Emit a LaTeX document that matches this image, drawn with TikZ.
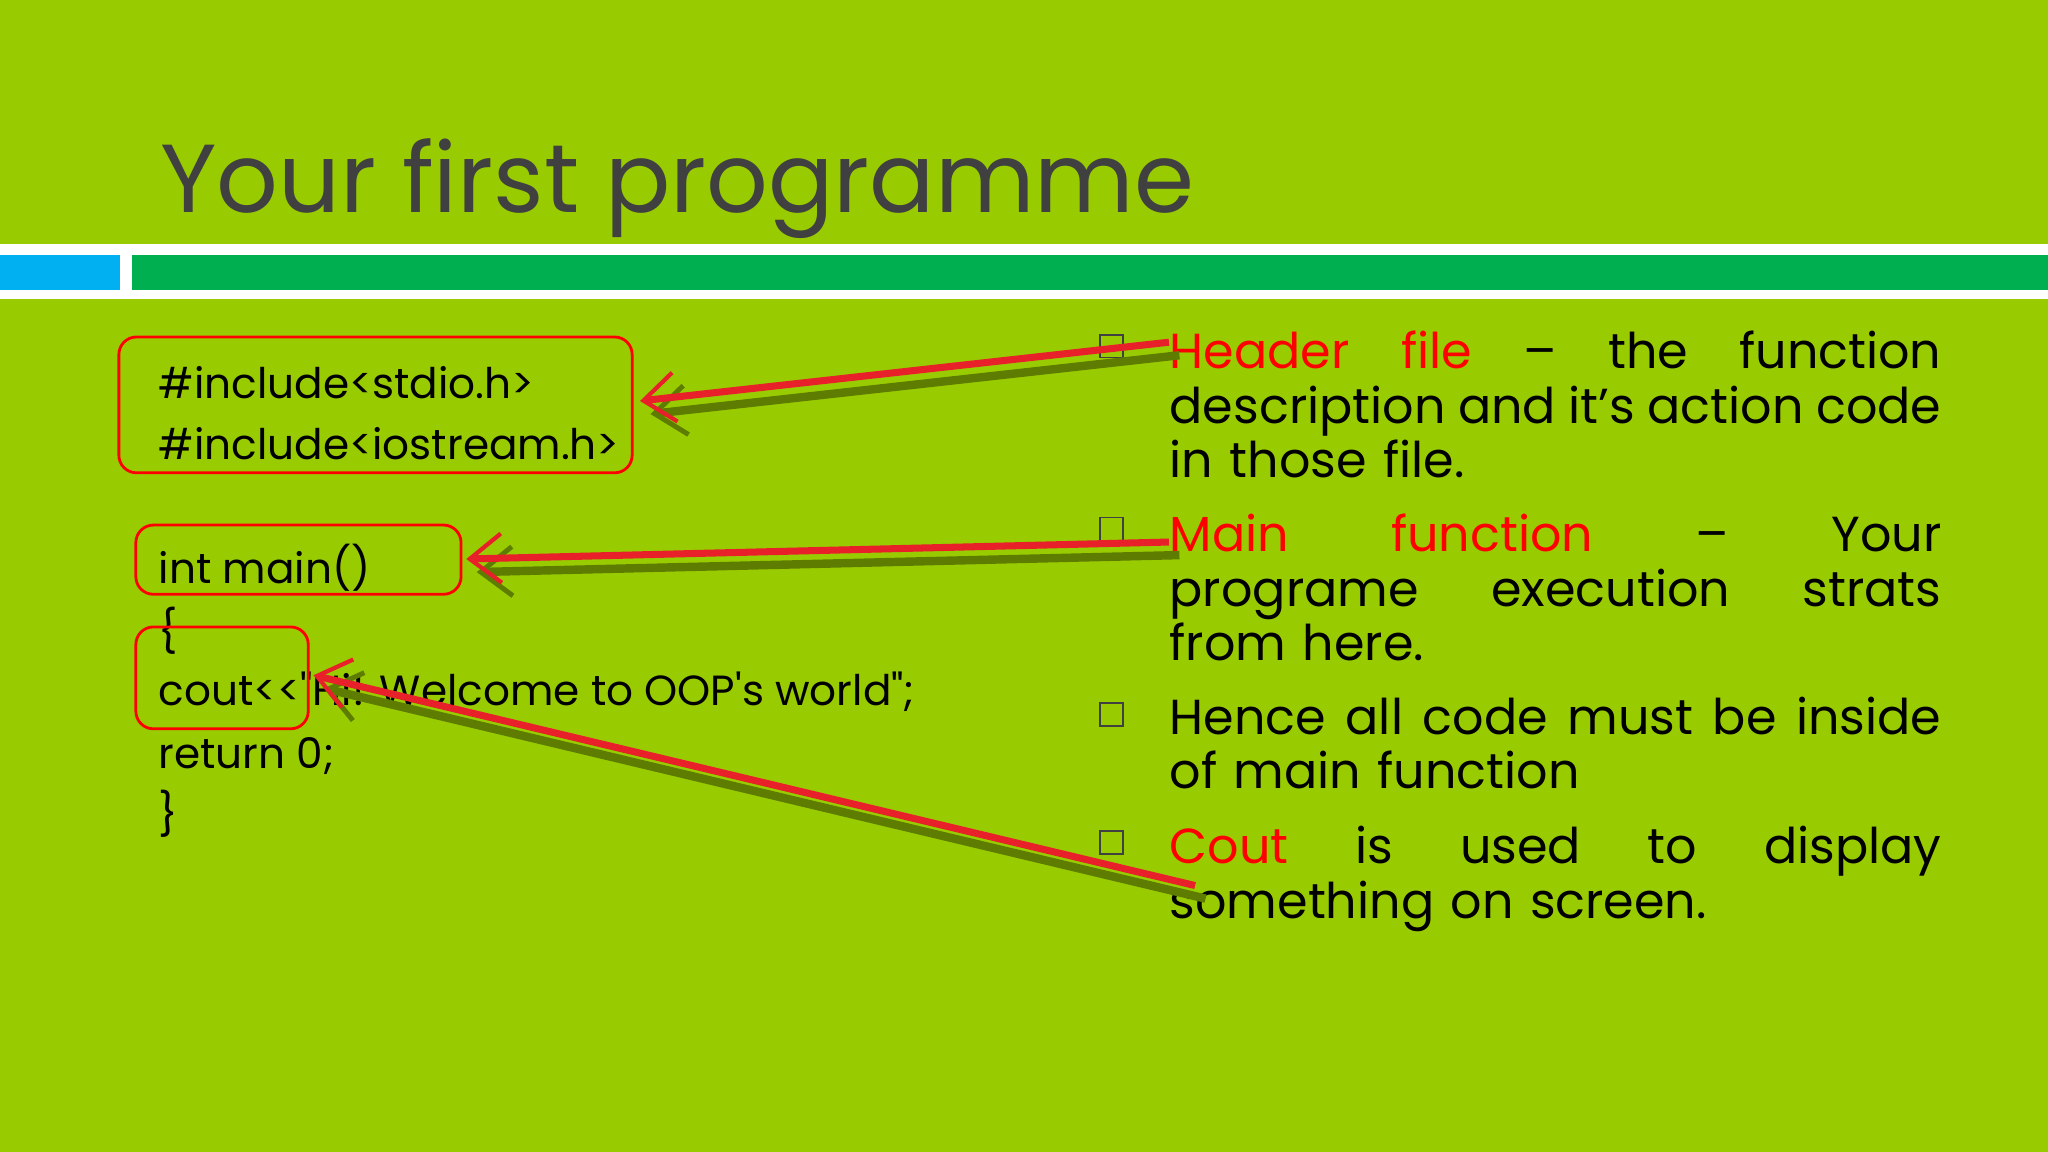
\documentclass[tikz,border=0pt]{standalone}
\usepackage{fontspec}
\setmainfont{Poppins}
\newfontfamily\codefont{Poppins}[Ligatures=TeXOff]
\usetikzlibrary{arrows.meta}
\definecolor{bg}{HTML}{99CC00}
\definecolor{gbar}{HTML}{00B050}
\definecolor{bbar}{HTML}{00B0F0}
\definecolor{shad}{HTML}{5E7D00}
\definecolor{tgray}{HTML}{404040}
\definecolor{kred}{HTML}{FF0000}
\definecolor{ared}{HTML}{E8202A}
\tikzset{
  codebox/.style={draw=kred,line width=0.8pt,rounded corners=5pt},
  code/.style={anchor=base west,font=\codefont\fontsize{12}{14}\selectfont,inner sep=0},
  bul/.style={draw=tgray,line width=0.5pt,minimum size=6.5pt,inner sep=0},
  para/.style={anchor=base west,text width=219.6pt,align=left,inner sep=0,
     font=\fontsize{14}{15.6}\selectfont},
  arr/.style={ared,line width=2pt,-{Straight Barb[length=9pt,width=14pt,line width=1.2pt]}},
  sh/.style={shad,line width=2.4pt,-{Straight Barb[length=9pt,width=14pt,line width=1.4pt]}}
}
\begin{document}
\begin{tikzpicture}[x=0.013061cm,y=-0.013061cm]
\fill[bg] (0,0) rectangle (1568,882);
\useasboundingbox (0,0) rectangle (1568,882);
\node[anchor=base west,text=tgray,font=\fontsize{27.5}{30}\selectfont,inner sep=0] (title) at (122,163) {Your first programme};
\fill[white] (0,187) rectangle (1568,229);
\fill[bbar] (0,195) rectangle (92,222);
\fill[gbar] (101,195) rectangle (1568,222);
% code
\node[code] (c1) at (121,305) {\#include<stdio.h>};
\node[code] (c2) at (121,352) {\#include<iostream.h>};
\node[code] (c3) at (121,447) {int main()};
\node[code] (c4) at (121,495) {\{};
\node[code] (c5) at (121,540) {cout<<"Hi! Welcome to OOP's world";};
\node[code] (c6) at (121,588) {return 0;};
\node[code] (c7) at (121,635) {\}};
\draw[codebox] (91,258) rectangle (484,362);
\draw[codebox] (104,402) rectangle (353,455);
\draw[codebox] (104,480) rectangle (236,558);
\coordinate (h1) at (490,307);
\coordinate (h2) at (357,428);
\coordinate (h3) at (240,517);
% bullets
\node[bul] (b1) at (851,265) {};
\node[bul] (b2) at (851,405) {};
\node[bul] (b3) at (851,547) {};
\node[bul] (b4) at (851,645) {};
\node[para] (p1) at (895,282) {\textcolor{kred}{Header}\hfill\textcolor{kred}{file}\hfill –\hfill the\hfill function\\ description\hfill and\hfill it’s\hfill action\hfill code\\ in those file.};
\node[para] (p2) at (895,422) {\textcolor{kred}{Main}\hfill\textcolor{kred}{function}\hfill –\hfill Your\\ programe\hfill execution\hfill strats\\ from here.};
\node[para] (p3) at (895,562) {Hence\hfill all\hfill code\hfill must\hfill be\hfill inside\\ of main function};
\node[para] (p4) at (895,661) {\textcolor{kred}{Cout}\hfill is\hfill used\hfill to\hfill display\\ something on screen.};
\coordinate (s1) at (895,262);
\coordinate (s2) at (895,415);
\coordinate (s3) at (915,678);
% arrows with shadow
\draw[sh] ([shift={(8,10)}]s1) -- ([shift={(8,10)}]h1);
\draw[sh] ([shift={(8,10)}]s2) -- ([shift={(8,10)}]h2);
\draw[sh] ([shift={(8,10)}]s3) -- ([shift={(8,10)}]h3);
\draw[arr] (s1) -- (h1);
\draw[arr] (s2) -- (h2);
\draw[arr] (s3) -- (h3);
\end{tikzpicture}
\end{document}
